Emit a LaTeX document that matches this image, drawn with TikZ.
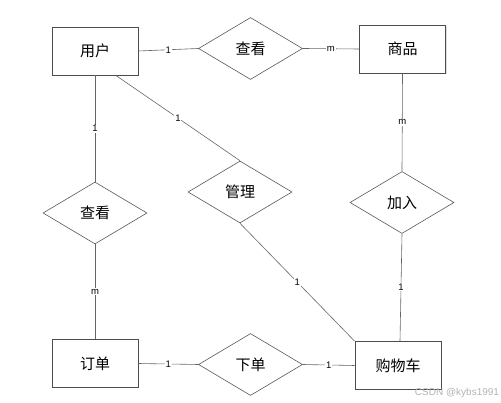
\documentclass[tikz,border=0pt]{standalone}
\usepackage{fontspec}
\newfontfamily\cjk{Noto Sans CJK SC}
\setsansfont{Liberation Sans}
\usetikzlibrary{shapes.geometric,shadows,calc}
\tikzset{
  entity/.style={draw=black!70, line width=0.9pt, fill=white, minimum width=86pt, minimum height=48pt, inner sep=0pt, font=\cjk\fontsize{15}{15}\selectfont,
    drop shadow={shadow xshift=1pt, shadow yshift=-1pt, opacity=0.25}},
  rel/.style={draw=black!65, line width=0.6pt, fill=white, diamond, aspect=1.68, minimum width=104pt, minimum height=62pt, inner sep=0pt, font=\cjk\fontsize{15}{15}\selectfont},
  conn/.style={draw=black!60, line width=0.6pt},
  card/.style={fill=white, inner sep=0.8pt, font=\sffamily\fontsize{9.5}{9.5}\selectfont, text=black}
}
\begin{document}
\begin{tikzpicture}[x=1pt,y=-1pt]
\useasboundingbox (0,0) rectangle (501,403);
\node[entity] (yh) at (95,51) {用户};
\node[entity] (sp) at (402.5,49) {商品};
\node[entity] (dd) at (95,363.5) {订单};
\node[entity] (gwc) at (398,365.5) {购物车};
\node[rel] (ck1) at (250.5,48.5) {查看};
\node[rel] (ck2) at (95,213) {查看};
\node[rel] (gl) at (240,192) {管理};
\node[rel] (jr) at (402,202.5) {加入};
\node[rel] (xd) at (250.5,364.5) {下单};
\coordinate (yhs) at ($(yh.south west)!0.74!(yh.south east)$);
\coordinate (gwcn) at ($(gwc.north)+(2,0)$);
\draw[conn] (yh.east) -- node[card]{1} (ck1.west);
\draw[conn] (ck1.east) -- node[card]{m} (sp.west);
\draw[conn] (yh.south) -- node[card]{1} (ck2.north);
\draw[conn] (ck2.south) -- node[card]{m} (dd.north);
\draw[conn] (yhs) -- node[card]{1} (gl.north);
\draw[conn] (gl.south) -- node[card]{1} (gwc.north west);
\draw[conn] (sp.south) -- node[card]{m} (jr.north);
\draw[conn] (jr.south) -- node[card]{1} (gwcn);
\draw[conn] (dd.east) -- node[card]{1} (xd.west);
\draw[conn] (xd.east) -- node[card]{1} (gwc.west);
\node[font=\sffamily\fontsize{10}{10}\selectfont, text=black!30] (wm) at (457,393) {CSDN @kybs1991};
\end{tikzpicture}
\end{document}
